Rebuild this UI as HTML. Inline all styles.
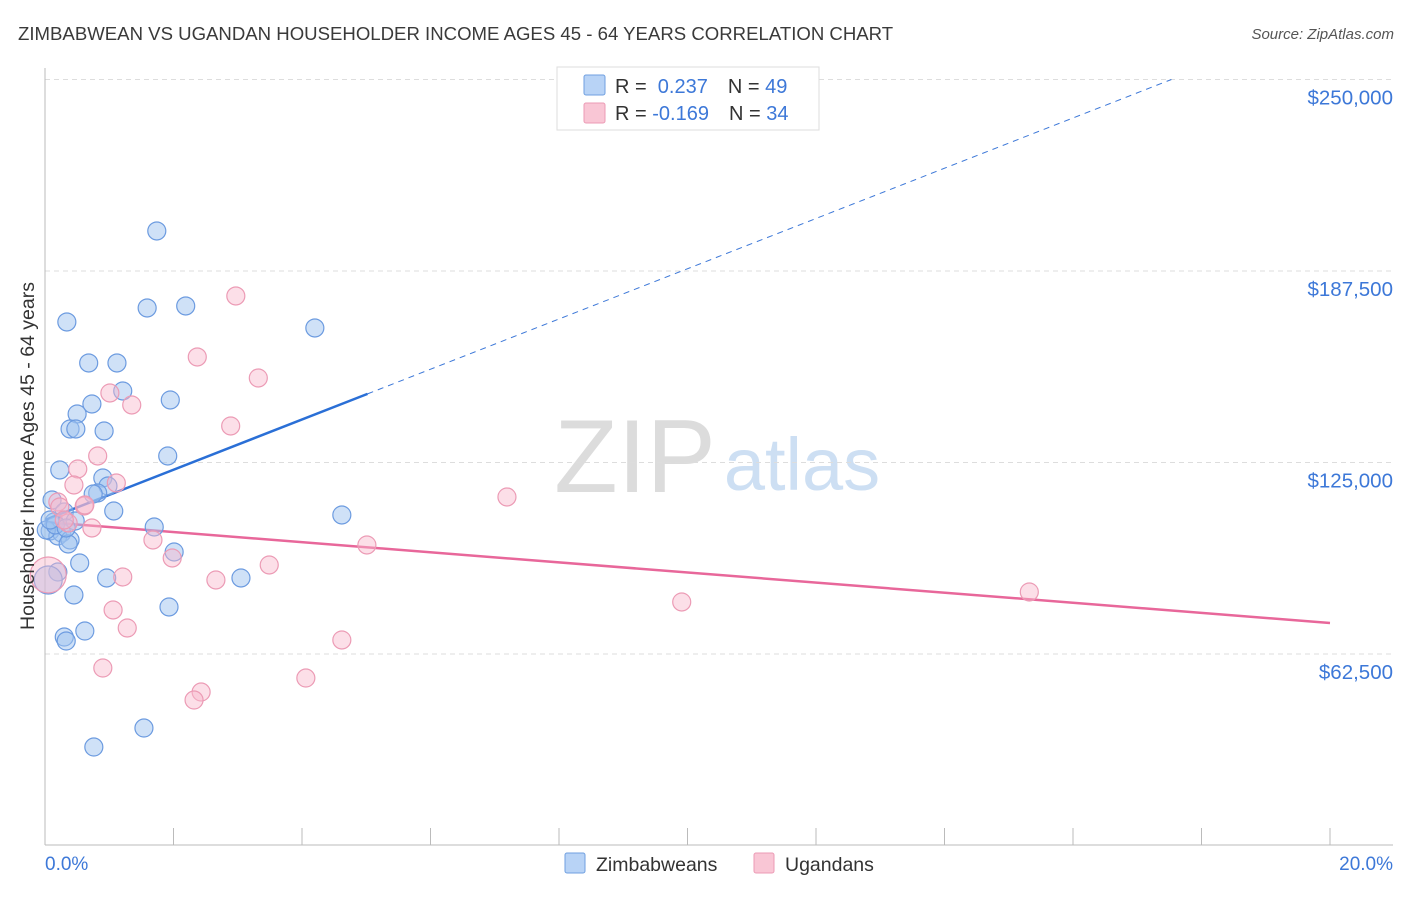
<!DOCTYPE html>
<html><head><meta charset="utf-8"><style>
body{margin:0;background:#fff;font-family:"Liberation Sans",sans-serif}
svg text{font-family:"Liberation Sans",sans-serif}
</style></head><body>
<svg id="chart" width="1406" height="892" xmlns="http://www.w3.org/2000/svg">
<text x="18" y="40" font-size="18.6" fill="#3a3a3a">ZIMBABWEAN VS UGANDAN HOUSEHOLDER INCOME AGES 45 - 64 YEARS CORRELATION CHART</text>
<text x="1394" y="39" font-size="15" fill="#555" text-anchor="end" font-style="italic">Source: ZipAtlas.com</text>
<g>
<text x="635" y="492" font-size="104" fill="#dcdcdc" text-anchor="middle" font-family="Liberation Serif">ZIP</text>
<text x="802" y="490" font-size="74" fill="#cddff3" text-anchor="middle">atlas</text>
</g>
<g id="grid"></g>
<g id="axes"></g>
<g id="lines"></g>
<g id="points"></g>
<text transform="translate(34,456) rotate(-90)" font-size="19.5" fill="#333" text-anchor="middle">Householder Income Ages 45 - 64 years</text>
<text x="45" y="870" font-size="19" fill="#3d78d8">0.0%</text>
<text x="1393" y="870" font-size="19" fill="#3d78d8" text-anchor="end">20.0%</text>
<g>
<rect x="557" y="67" width="262" height="63" fill="#fff" stroke="#ddd"/>
<rect x="584" y="75" width="21" height="20" rx="2" fill="#b8d3f6" stroke="#6f9fe0"/>
<rect x="584" y="103" width="21" height="20" rx="2" fill="#f9c6d5" stroke="#ec9bb5"/>
<text x="615" y="93" font-size="20" fill="#333">R = <tspan fill="#3d78d8">&#160;0.237</tspan><tspan dx="20">N = </tspan><tspan fill="#3d78d8">49</tspan></text>
<text x="615" y="120" font-size="20" fill="#333">R = <tspan fill="#3d78d8">-0.169</tspan><tspan dx="20">N = </tspan><tspan fill="#3d78d8">34</tspan></text>
</g>
<g>
<rect x="565" y="853" width="20" height="20" rx="2" fill="#b8d3f6" stroke="#6f9fe0"/>
<text x="596" y="871" font-size="19.5" fill="#333">Zimbabweans</text>
<rect x="754" y="853" width="20" height="20" rx="2" fill="#f9c6d5" stroke="#ec9bb5"/>
<text x="785" y="871" font-size="19.5" fill="#333">Ugandans</text>
</g>
</svg>
<script>
const yTicks=[62500,125000,187500,250000];
const yTickLabels=["$62,500","$125,000","$187,500","$250,000"];
const xTicks=[0,2,4,6,8,10,12,14,16,18,20];
const zimX=[1.74,0.34,1.59,2.19,4.20,0.68,1.12,1.21,0.73,1.95,0.50,0.39,0.48,0.92,1.91,0.23,0.90,0.98,0.82,0.75,0.11,1.07,4.62,0.30,0.14,0.47,1.70,0.08,0.26,0.20,0.39,0.36,2.01,0.54,0.20,0.96,3.05,0.45,1.93,0.62,0.30,0.33,1.54,0.76,0.05,0.02,0.16,0.33,0.08];
const zimY=[200567,170865,175434,176087,168906,157482,157482,148343,144100,145406,140836,135940,135940,135287,127127,122558,119946,117335,115050,114724,112766,109175,107870,108848,105585,105911,103953,102647,101994,101015,99710,98404,95793,92202,89265,87306,87306,81757,77841,70007,68049,66743,38346,32144,86654,102974,104606,103627,106238];
const ugX=[2.97,2.37,3.32,1.01,1.35,2.89,0.82,0.51,0.45,1.11,0.20,0.61,0.36,0.73,1.68,1.98,5.01,3.49,2.66,1.21,7.19,9.91,15.32,1.06,1.28,4.62,0.90,2.43,2.32,4.06,0.05,0.23,0.62,0.30];
const ugY=[179351,159441,152586,147690,143774,136919,127127,122884,117662,118314,112113,110808,105258,103627,99710,93834,98078,91550,86654,87633,113745,79473,82737,76862,70986,67070,57931,50097,47486,54666,88286,110482,111134,106238];
const zimLine=[106238,8200];
const ugLine=[105585,-1648];
const NS="http://www.w3.org/2000/svg";
const xs=v=>45+v*64.25;
const ys=v=>654-(v-62500)*191.5/62500;
function mk(tag,attrs,parent){const e=document.createElementNS(NS,tag);for(const k in attrs)e.setAttribute(k,attrs[k]);document.getElementById(parent).appendChild(e);return e;}
yTicks.forEach((t,i)=>{
 const g=mk('line',{x1:45,x2:1393,y1:ys(t),y2:ys(t),stroke:'#ddd','stroke-dasharray':'5,4'},'grid');
 
 
 const l=mk('text',{x:1393,y:ys(t)+25,'font-size':20.5,fill:'#3d78d8','text-anchor':'end'},'grid');
 
 
 l.textContent=yTickLabels[i];
});
const ax=mk('line',{x1:45,x2:1393,y1:845,y2:845,stroke:'#bbb'},'axes');


const ay=mk('line',{x1:45,x2:45,y1:68,y2:845,stroke:'#bbb'},'axes');


xTicks.forEach(t=>{
 const e=mk('line',{x1:xs(t),x2:xs(t),y1:828,y2:845,stroke:'#bbb'},'axes');
 
 
});
const zEnd=(250000-zimLine[0])/zimLine[1];
let e=mk('line',{x1:xs(5.02),y1:ys(zimLine[0]+zimLine[1]*5.02),x2:xs(zEnd),y2:ys(zimLine[0]+zimLine[1]*zEnd),stroke:'#3d78d8','stroke-width':1,'stroke-dasharray':'6,5'},'lines');


e=mk('line',{x1:xs(0),y1:ys(zimLine[0]),x2:xs(5.02),y2:ys(zimLine[0]+zimLine[1]*5.02),stroke:'#2a6fd6','stroke-width':2.5},'lines');


e=mk('line',{x1:xs(0),y1:ys(ugLine[0]),x2:xs(20),y2:ys(ugLine[0]+ugLine[1]*20),stroke:'#e8679a','stroke-width':2.5},'lines');


zimX.forEach((x,i)=>{
 const c=mk('circle',{cx:xs(x),cy:ys(zimY[i]),r:i==44?14:9,fill:'rgba(160,196,240,0.5)',stroke:'#6c9be0','stroke-width':1.2},'points');
 
 
});
ugX.forEach((x,i)=>{
 const c=mk('circle',{cx:xs(x),cy:ys(ugY[i]),r:i==30?18:9,fill:'rgba(248,185,205,0.45)',stroke:'#ec9bb5','stroke-width':1.2},'points');
 
 
});
</script>
</body></html>
